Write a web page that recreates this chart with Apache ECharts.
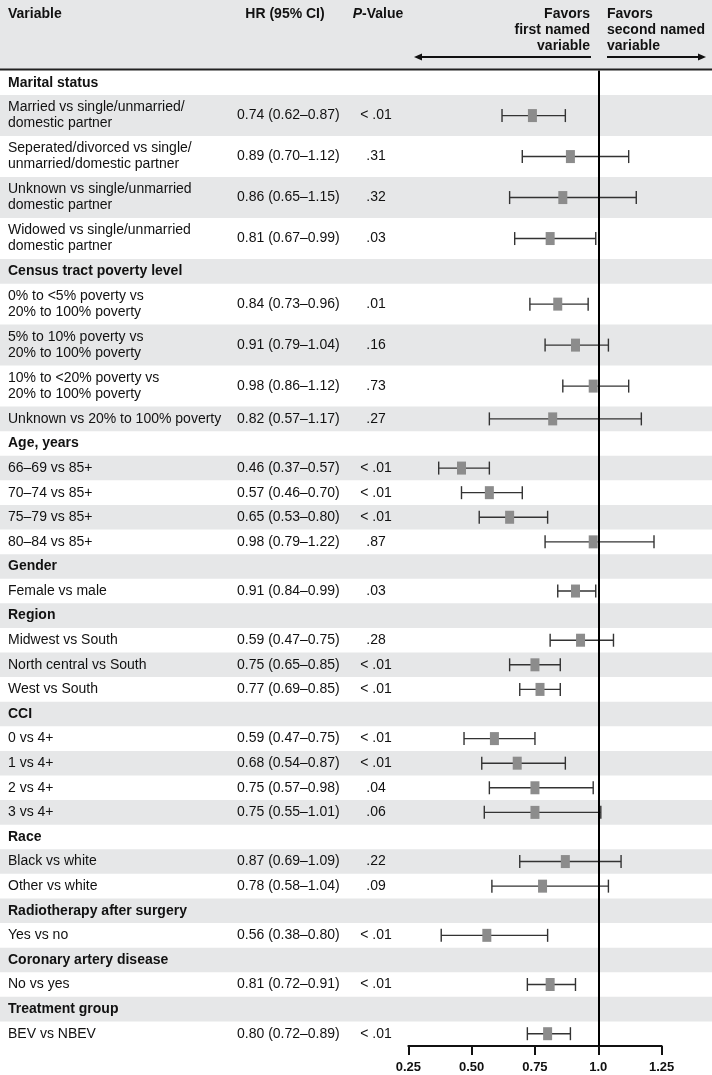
<!DOCTYPE html>
<html><head><meta charset="utf-8">
<script src="https://cdn.jsdelivr.net/npm/echarts@6/dist/echarts.min.js"></script>
<style>html,body{margin:0;padding:0;background:#fff}#c{width:712px;height:1075px}</style>
</head><body><div id="c"></div>
<script>
// ---------------- data ----------------
const variables = [
  'Marital status',
  'Married vs single/unmarried/\ndomestic partner',
  'Seperated/divorced vs single/\nunmarried/domestic partner',
  'Unknown vs single/unmarried\ndomestic partner',
  'Widowed vs single/unmarried\ndomestic partner',
  'Census tract poverty level',
  '0% to <5% poverty vs\n20% to 100% poverty',
  '5% to 10% poverty vs\n20% to 100% poverty',
  '10% to <20% poverty vs\n20% to 100% poverty',
  'Unknown vs 20% to 100% poverty',
  'Age, years',
  '66–69 vs 85+',
  '70–74 vs 85+',
  '75–79 vs 85+',
  '80–84 vs 85+',
  'Gender',
  'Female vs male',
  'Region',
  'Midwest vs South',
  'North central vs South',
  'West vs South',
  'CCI',
  '0 vs 4+',
  '1 vs 4+',
  '2 vs 4+',
  '3 vs 4+',
  'Race',
  'Black vs white',
  'Other vs white',
  'Radiotherapy after surgery',
  'Yes vs no',
  'Coronary artery disease',
  'No vs yes',
  'Treatment group',
  'BEV vs NBEV'
];
const isHeading = [1,0,0,0,0,1,0,0,0,0,1,0,0,0,0,1,0,1,0,0,0,1,0,0,0,0,1,0,0,1,0,1,0,1,0];
const hrLabels = [
  '', '0.74 (0.62–0.87)', '0.89 (0.70–1.12)', '0.86 (0.65–1.15)', '0.81 (0.67–0.99)',
  '', '0.84 (0.73–0.96)', '0.91 (0.79–1.04)', '0.98 (0.86–1.12)', '0.82 (0.57–1.17)',
  '', '0.46 (0.37–0.57)', '0.57 (0.46–0.70)', '0.65 (0.53–0.80)', '0.98 (0.79–1.22)',
  '', '0.91 (0.84–0.99)',
  '', '0.59 (0.47–0.75)', '0.75 (0.65–0.85)', '0.77 (0.69–0.85)',
  '', '0.59 (0.47–0.75)', '0.68 (0.54–0.87)', '0.75 (0.57–0.98)', '0.75 (0.55–1.01)',
  '', '0.87 (0.69–1.09)', '0.78 (0.58–1.04)',
  '', '0.56 (0.38–0.80)',
  '', '0.81 (0.72–0.91)',
  '', '0.80 (0.72–0.89)'
];
const pLabels = [
  '', '< .01', '.31', '.32', '.03',
  '', '.01', '.16', '.73', '.27',
  '', '< .01', '< .01', '< .01', '.87',
  '', '.03',
  '', '.28', '< .01', '< .01',
  '', '< .01', '< .01', '.04', '.06',
  '', '.22', '.09',
  '', '< .01',
  '', '< .01',
  '', '< .01'
];
// plotted estimates and interval ends (as drawn)
const estimate = [null,0.74,0.89,0.86,0.81, null,0.84,0.91,0.98,0.82, null,0.46,0.57,0.65,0.98, null,0.91, null,0.93,0.75,0.77, null,0.59,0.68,0.75,0.75, null,0.87,0.78, null,0.56, null,0.81, null,0.80];
const lower    = [null,0.62,0.70,0.65,0.67, null,0.73,0.79,0.86,0.57, null,0.37,0.46,0.53,0.79, null,0.84, null,0.81,0.65,0.69, null,0.47,0.54,0.57,0.55, null,0.69,0.58, null,0.38, null,0.72, null,0.72];
const upper    = [null,0.87,1.12,1.15,0.99, null,0.96,1.04,1.12,1.17, null,0.57,0.70,0.80,1.22, null,0.99, null,1.06,0.85,0.85, null,0.75,0.87,0.98,1.01, null,1.09,1.04, null,0.80, null,0.91, null,0.89];
const xTickValues = [0.25, 0.5, 0.75, 1.0, 1.25];
const xTickLabels = ['0.25', '0.50', '0.75', '1.0', '1.25'];
const referenceValue = 1.0;
const columnTitles = ['Variable', 'HR (95% CI)', 'P-Value'];
const favorsLeft = 'Favors\nfirst named\nvariable';
const favorsRight = 'Favors\nsecond named\nvariable';

// ---------------- layout ----------------
const FONT = "'Liberation Sans', Arial, Helvetica, sans-serif";
const GRAY = '#e6e7e8';
const W = 712;
const rowStart = [], rowEnd = [];
let acc = 0;
variables.forEach(v => {
  const lines = v.split('\n').length;
  rowStart.push(acc);
  acc += lines === 1 ? 3 : 5;
  rowEnd.push(acc);
});
const totalUnits = acc;
const rowMid = rowStart.map((s, i) => (s + rowEnd[i]) / 2);

const rowData = variables.map((v, i) => [0.25, rowStart[i], rowEnd[i], i]);
const barData = [], markData = [];
variables.forEach((v, i) => {
  if (estimate[i] != null) {
    barData.push([lower[i], upper[i], rowMid[i]]);
    markData.push([estimate[i], rowMid[i]]);
  }
});

const chart = echarts.init(document.getElementById('c'), null, {renderer: 'canvas'});

function arrowHead(x, y, dir) {
  return {type: 'polygon', z: 10,
    shape: {points: [[x, y], [x - dir * 8, y - 3.5], [x - dir * 8, y + 3.5]]},
    style: {fill: '#111'}};
}

chart.setOption({
  animation: false,
  backgroundColor: '#fff',
  grid: {left: 408.3, right: W - 661.6, top: 70.5, height: 975.5, containLabel: false},
  xAxis: {
    type: 'value', min: 0.25, max: 1.25, interval: 0.25, position: 'bottom',
    axisLine: {show: true, onZero: false, lineStyle: {color: '#111', width: 2}},
    axisTick: {show: true, inside: false, length: 9, lineStyle: {color: '#111', width: 2}},
    axisLabel: {
      margin: 15, color: '#111', fontFamily: FONT, fontWeight: 'bold', fontSize: 13,
      formatter: v => { const k = xTickValues.findIndex(t => Math.abs(t - v) < 1e-9); return k >= 0 ? xTickLabels[k] : ''; }
    },
    splitLine: {show: false}
  },
  yAxis: {type: 'value', inverse: true, min: 0, max: totalUnits, show: false, splitLine: {show: false}},
  graphic: [
    {type: 'rect', z: 0, shape: {x: 0, y: 0, width: W, height: 69}, style: {fill: GRAY}},
    {type: 'line', z: 10, shape: {x1: 0, y1: 69.5, x2: W, y2: 69.5}, style: {stroke: '#222', lineWidth: 2}},
    {type: 'text', z: 10, x: 8, y: 14, style: {text: columnTitles[0], font: 'bold 14px ' + FONT, fill: '#111', verticalAlign: 'middle'}},
    {type: 'text', z: 10, x: 285, y: 14, style: {text: columnTitles[1], font: 'bold 14px ' + FONT, fill: '#111', align: 'center', verticalAlign: 'middle'}},
    {type: 'text', z: 10, x: 378, y: 14, style: {
      text: '{i|P}{b|' + columnTitles[2].slice(1) + '}', align: 'center', verticalAlign: 'middle', fill: '#111',
      rich: {i: {fontStyle: 'italic', fontWeight: 'bold', fontSize: 14, fontFamily: FONT, fill: '#111'},
             b: {fontWeight: 'bold', fontSize: 14, fontFamily: FONT, fill: '#111'}}}},
    {type: 'text', z: 10, x: 590, y: 30.5, style: {text: favorsLeft, font: 'bold 14px ' + FONT, fill: '#111', align: 'right', verticalAlign: 'middle', lineHeight: 16}},
    {type: 'text', z: 10, x: 607, y: 30.5, style: {text: favorsRight, font: 'bold 14px ' + FONT, fill: '#111', align: 'left', verticalAlign: 'middle', lineHeight: 16}},
    {type: 'line', z: 10, shape: {x1: 591, y1: 57, x2: 420, y2: 57}, style: {stroke: '#111', lineWidth: 2}},
    arrowHead(414, 57, -1),
    {type: 'line', z: 10, shape: {x1: 607, y1: 57, x2: 700, y2: 57}, style: {stroke: '#111', lineWidth: 2}},
    arrowHead(706, 57, 1)
  ],
  series: [
    {
      type: 'custom', name: 'rows', z: 1, clip: false, silent: true,
      encode: {x: 0, y: [1, 2]},
      data: rowData,
      renderItem: function (params, api) {
        const i = api.value(3);
        const y0 = api.coord([0.25, api.value(1)])[1];
        const y1 = api.coord([0.25, api.value(2)])[1];
        const ym = (y0 + y1) / 2;
        const children = [];
        if (i % 2 === 1) children.push({type: 'rect', shape: {x: 0, y: y0, width: W, height: y1 - y0}, style: {fill: GRAY}});
        children.push({type: 'text', x: 8, y: ym, style: {text: variables[i], font: (isHeading[i] ? 'bold ' : '') + '14px ' + FONT, fill: '#111', verticalAlign: 'middle', lineHeight: 16}});
        if (hrLabels[i]) children.push({type: 'text', x: 237, y: ym, style: {text: hrLabels[i], font: '14px ' + FONT, fill: '#111', verticalAlign: 'middle'}});
        if (pLabels[i]) children.push({type: 'text', x: 376, y: ym, style: {text: pLabels[i], font: '14px ' + FONT, fill: '#111', align: 'center', verticalAlign: 'middle'}});
        return {type: 'group', children: children};
      }
    },
    {
      type: 'custom', name: 'ci', z: 3, clip: false, silent: true,
      encode: {x: [0, 1], y: 2},
      data: barData,
      renderItem: function (params, api) {
        const a = api.coord([api.value(0), api.value(2)]);
        const b = api.coord([api.value(1), api.value(2)]);
        const st = {stroke: '#333', lineWidth: 1.4};
        return {type: 'group', children: [
          {type: 'line', shape: {x1: a[0], y1: a[1], x2: b[0], y2: b[1]}, style: st},
          {type: 'line', shape: {x1: a[0], y1: a[1] - 6.5, x2: a[0], y2: a[1] + 6.5}, style: st},
          {type: 'line', shape: {x1: b[0], y1: b[1] - 6.5, x2: b[0], y2: b[1] + 6.5}, style: st}
        ]};
      }
    },
    {
      type: 'scatter', name: 'HR', z: 4, silent: true,
      symbol: 'rect', symbolSize: [9, 13],
      itemStyle: {color: '#8c8c8c', opacity: 1},
      data: markData,
      markLine: {
        silent: true, symbol: ['none', 'none'], z: 6,
        label: {show: false},
        lineStyle: {color: '#000', width: 2, type: 'solid'},
        data: [{xAxis: referenceValue}]
      }
    }
  ]
});
</script></body></html>
